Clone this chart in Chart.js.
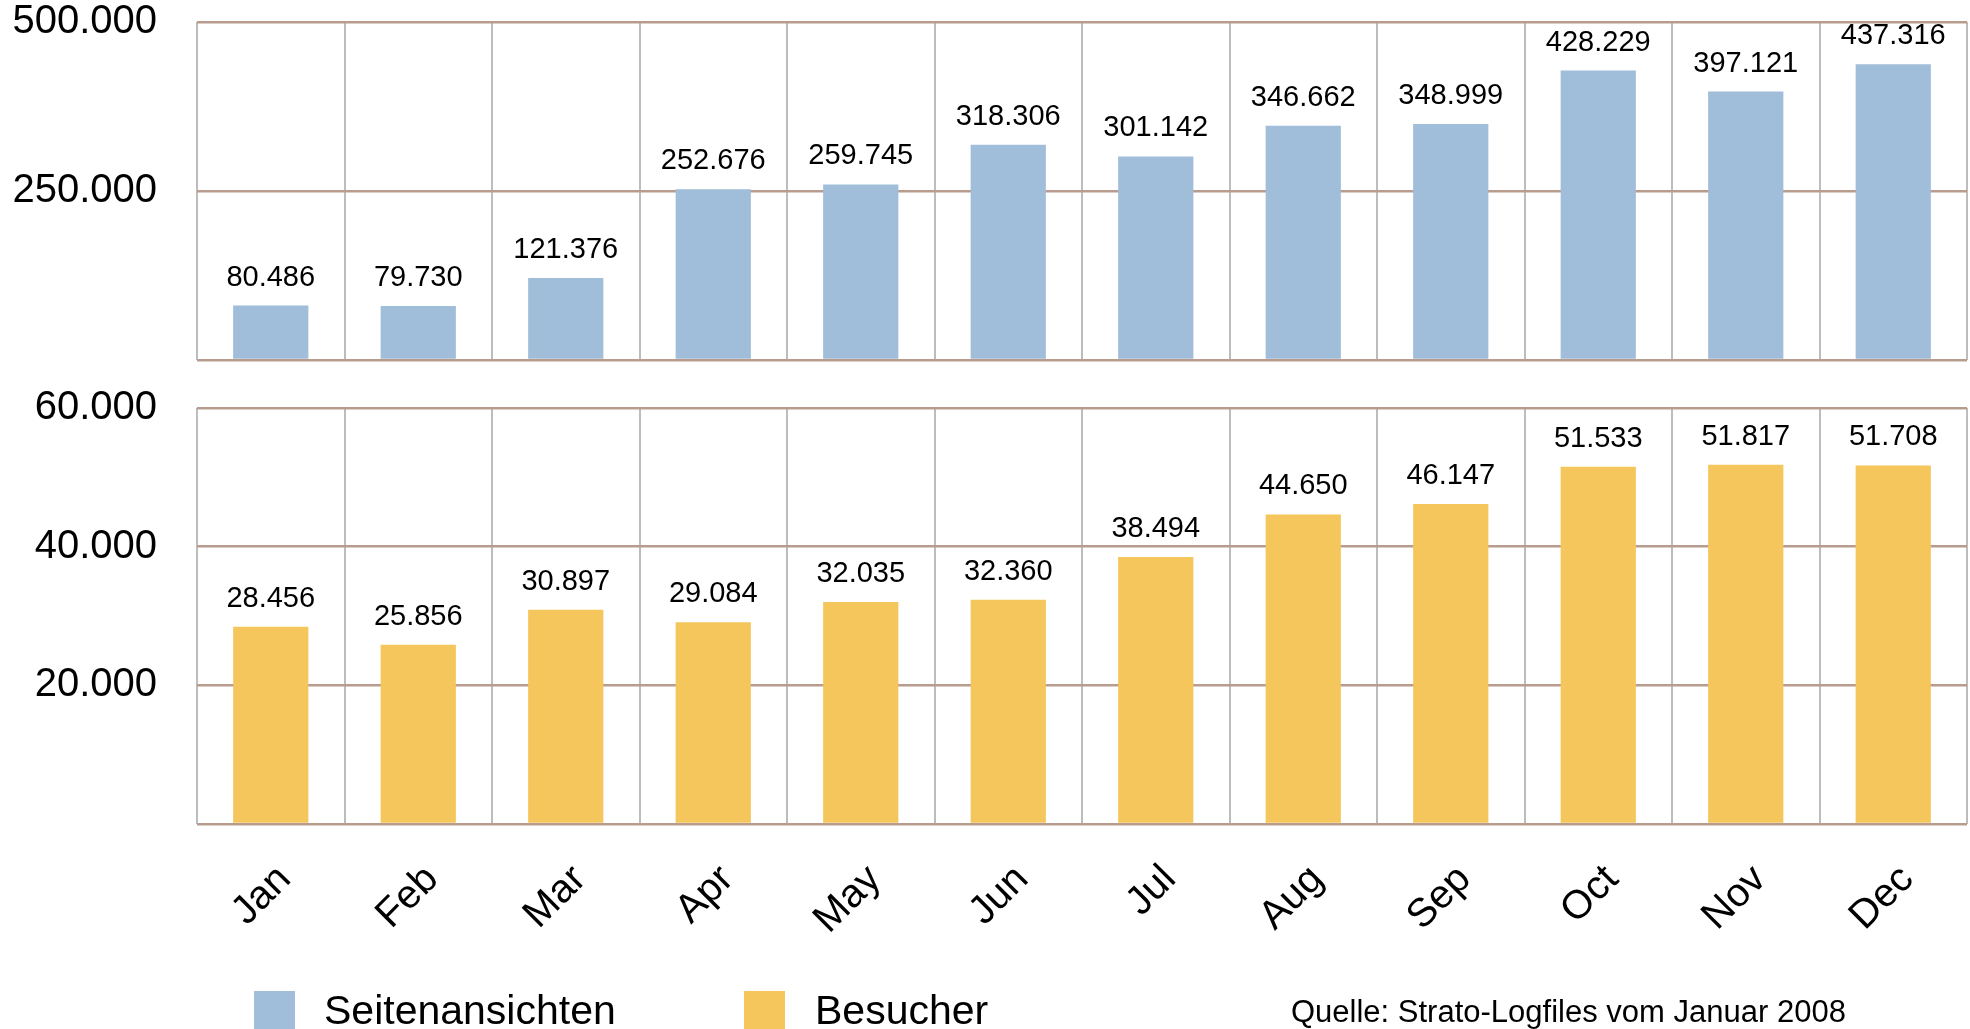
<!DOCTYPE html>
<html>
<head>
<meta charset="utf-8">
<script src="https://cdn.jsdelivr.net/npm/chart.js"></script>
<style>
  html, body { margin: 0; padding: 0; background: #fff; overflow: hidden; }
  body { width: 1970px; height: 1029px; position: relative; font-family: "Liberation Sans", Arial, sans-serif; }
  .box { position: absolute; left: 0; width: 1970px; }
  #topBox { top: 0; height: 380px; }
  #bottomBox { top: 380px; height: 649px; }
  .swatch { position: absolute; top: 991px; width: 41px; height: 41px; }
  .leg { position: absolute; white-space: nowrap; color: #000; }
</style>
</head>
<body>
<div class="box" id="topBox"><canvas id="pageViewsChart"></canvas></div>
<div class="box" id="bottomBox"><canvas id="visitorsChart"></canvas></div>

<div class="swatch" style="left:254px; background:#a0bdd9;"></div>
<div class="leg" style="left:324px; top:990px; font-size:41px; line-height:41px;">Seitenansichten</div>
<div class="swatch" style="left:744px; background:#f5c65b;"></div>
<div class="leg" style="left:815px; top:990px; font-size:41px; line-height:41px;">Besucher</div>
<div class="leg" style="left:1291px; top:996px; font-size:31px; line-height:31px;">Quelle: Strato-Logfiles vom Januar 2008</div>

<script>
    // Months and values
    const months = ['Jan', 'Feb', 'Mar', 'Apr', 'May', 'Jun', 'Jul', 'Aug', 'Sep', 'Oct', 'Nov', 'Dec'];
    const pageViews = [80486, 79730, 121376, 252676, 259745, 318306, 301142, 346662, 348999, 428229, 397121, 437316];
    const visitors = [28456, 25856, 30897, 29084, 32035, 32360, 38494, 44650, 46147, 51533, 51817, 51708];

    const FONT = '"Liberation Sans", Arial, sans-serif';
    const hLine = '#b89d8e';
    const vLine = '#bdbdbd';

    // 80486 -> "80.486"
    function fmt(v) {
        return String(v).replace(/\B(?=(\d{3})+(?!\d))/g, '.');
    }

    // draws the value above each bar
    const valueLabels = {
        id: 'valueLabels',
        afterDatasetsDraw(chart) {
            const ctx = chart.ctx;
            const ds = chart.data.datasets[0];
            ctx.save();
            ctx.font = '29px ' + FONT;
            ctx.fillStyle = '#000';
            ctx.textAlign = 'center';
            ctx.textBaseline = 'alphabetic';
            chart.getDatasetMeta(0).data.forEach((bar, i) => {
                ctx.fillText(fmt(ds.data[i]), bar.x, bar.y - 20);
            });
            ctx.restore();
        }
    };

    function makeChart(id, values, color, maxY, step, xHeight, padTop, showX) {
        const ctx = document.getElementById(id).getContext('2d');
        return new Chart(ctx, {
            type: 'bar',
            data: {
                labels: months,
                datasets: [{
                    data: values,
                    backgroundColor: color,
                    barPercentage: 0.51,
                    categoryPercentage: 1.0
                }]
            },
            options: {
                responsive: true,
                maintainAspectRatio: false,
                animation: false,
                layout: { padding: { top: padTop, right: 3, left: 0, bottom: 0 } },
                plugins: {
                    legend: { display: false },
                    tooltip: { enabled: false }
                },
                scales: {
                    x: {
                        grid: { color: vLine, lineWidth: 2, drawTicks: false },
                        border: { display: false },
                        ticks: {
                            display: showX,
                            color: '#000',
                            font: { family: FONT, size: 40 },
                            maxRotation: 45,
                            minRotation: 45,
                            padding: 32,
                            labelOffset: 14,
                            autoSkip: false
                        },
                        afterFit: function(scale) { scale.height = xHeight; }
                    },
                    y: {
                        min: 0,
                        max: maxY,
                        // invisible tick marks keep the labels away from the plot
                        grid: { color: hLine, lineWidth: 2.5, drawTicks: true, tickLength: 40, tickColor: 'rgba(0,0,0,0)' },
                        border: { display: false },
                        ticks: {
                            stepSize: step,
                            color: '#000',
                            font: { family: FONT, size: 40, lineHeight: 1 },
                            padding: 0,
                            callback: function(v) { return v === 0 ? '' : fmt(v); }
                        },
                        afterFit: function(scale) { scale.width = 197; }
                    }
                }
            },
            plugins: [valueLabels]
        });
    }

    // upper panel: page views, lower panel: visitors
    makeChart('pageViewsChart', pageViews, '#a0bdd9', 500000, 250000, 20, 22, false);
    makeChart('visitorsChart', visitors, '#f5c65b', 60000, 20000, 205, 28, true);
</script>
</body>
</html>
